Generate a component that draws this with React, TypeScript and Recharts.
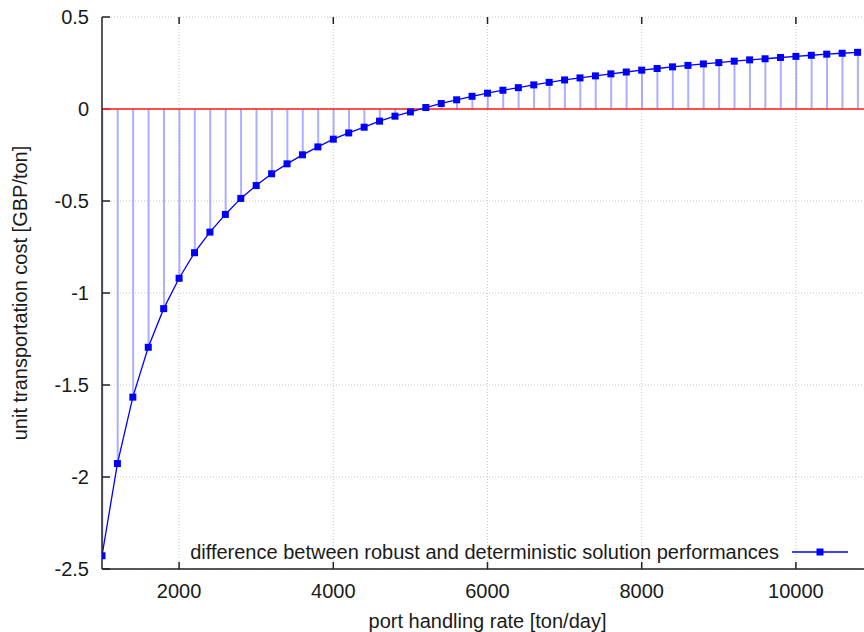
import React from 'react';
import {
  ComposedChart,
  Line,
  Bar,
  XAxis,
  YAxis,
  CartesianGrid,
  ReferenceLine,
  Legend,
} from 'recharts';

const handlingRates = [
  1000, 1200, 1400, 1600, 1800, 2000, 2200, 2400, 2600, 2800,
  3000, 3200, 3400, 3600, 3800, 4000, 4200, 4400, 4600, 4800,
  5000, 5200, 5400, 5600, 5800, 6000, 6200, 6400, 6600, 6800,
  7000, 7200, 7400, 7600, 7800, 8000, 8200, 8400, 8600, 8800,
  9000, 9200, 9400, 9600, 9800, 10000, 10200, 10400, 10600, 10800,
];

const costDifference = [
  -2.428, -1.927, -1.566, -1.295, -1.085, -0.92, -0.781, -0.669, -0.573, -0.486,
  -0.416, -0.352, -0.298, -0.249, -0.206, -0.164, -0.13, -0.099, -0.066, -0.039,
  -0.016, 0.008, 0.03, 0.05, 0.069, 0.086, 0.102, 0.116, 0.131, 0.145,
  0.158, 0.169, 0.18, 0.191, 0.201, 0.211, 0.22, 0.229, 0.237, 0.245,
  0.252, 0.26, 0.267, 0.273, 0.28, 0.286, 0.292, 0.298, 0.303, 0.308,
];

const xTicks = [2000, 4000, 6000, 8000, 10000];
const yTicks = [-2.5, -2, -1.5, -1, -0.5, 0, 0.5];
const yTickLabels = ['-2.5', '-2', '-1.5', '-1', '-0.5', '0', '0.5'];

const xDomain = [1000, 11000];
const yDomain = [-2.5, 0.5];

const seriesName = 'difference between robust and deterministic solution performances';
const xTitle = 'port handling rate [ton/day]';
const yTitle = 'unit transportation cost [GBP/ton]';

const data = handlingRates.map((r, i) => ({ rate: r, diff: costDifference[i] }));

// inward tick-mark lengths expressed in axis units (~7-8 px)
const X_TICK_LEN = 0.038; // y-units for ticks on horizontal borders
const Y_TICK_LEN = 104; // x-units for ticks on the left border

const FONT = '"Liberation Sans", Arial, Helvetica, sans-serif';
const TEXT = '#1a1a1a';
const AXIS = '#222222';

const BottomTick = (props: any) => {
  const { x, y, payload } = props;
  return (
    <text x={x} y={y} dy="0.71em" textAnchor="middle" fontSize={20} fontFamily={FONT} fill={TEXT}>
      {payload.value}
    </text>
  );
};

const LeftTick = (props: any) => {
  const { x, y, payload } = props;
  const idx = yTicks.indexOf(payload.value);
  const label = idx >= 0 ? yTickLabels[idx] : String(payload.value);
  return (
    <text x={x} y={y} dy="0.355em" textAnchor="end" fontSize={20} fontFamily={FONT} fill={TEXT}>
      {label}
    </text>
  );
};

const SquareDot = (props: any) => {
  const { cx, cy, index } = props;
  if (cx == null || cy == null) return <g key={index} />;
  return <rect key={index} x={cx - 3.5} y={cy - 3.5} width={7} height={7} fill="#0000ff" />;
};

const YTitle = (props: any) => {
  const vb = props.viewBox || { x: 0, y: 0, width: 0, height: 0 };
  const cx = vb.x + 20;
  const cy = vb.y + vb.height / 2;
  return (
    <text
      x={cx}
      y={cy}
      transform={`rotate(-90 ${cx} ${cy})`}
      textAnchor="middle"
      dominantBaseline="central"
      fontSize={20}
      fontFamily={FONT}
      fill={TEXT}
    >
      {yTitle}
    </text>
  );
};

const XTitle = (props: any) => {
  const vb = props.viewBox || { x: 0, y: 0, width: 0, height: 0 };
  const cx = vb.x + vb.width / 2;
  return (
    <text x={cx} y={vb.y + 58.5} textAnchor="middle" fontSize={20} fontFamily={FONT} fill={TEXT}>
      {xTitle}
    </text>
  );
};

const LegendContent = () => (
  <div
    style={{
      display: 'flex',
      justifyContent: 'flex-end',
      alignItems: 'center',
      height: 20,
    }}
  >
    <span style={{ fontFamily: FONT, fontSize: 20, lineHeight: '20px', color: TEXT, whiteSpace: 'nowrap' }}>
      {seriesName}
    </span>
    <svg width={56} height={20} style={{ marginLeft: 13, display: 'block' }}>
      <line x1={0} y1={10} x2={56} y2={10} stroke="#0000ff" strokeWidth={1.5} />
      <rect x={24.5} y={6.5} width={7} height={7} fill="#0000ff" />
    </svg>
  </div>
);

const axisLineStyle = { stroke: AXIS, strokeWidth: 1.5 };

export default function App() {
  return (
    <div
      style={{
        position: 'absolute',
        left: 0,
        top: 0,
        width: 864,
        height: 632,
        overflow: 'hidden',
        background: '#ffffff',
      }}
    >
      <ComposedChart
        width={900}
        height={632}
        data={data}
        margin={{ top: 17, right: 27, left: 0, bottom: 33 }}
      >
        <CartesianGrid
          stroke="#c8c8c8"
          strokeDasharray="1 2"
          verticalValues={xTicks}
          horizontalValues={yTicks}
        />
        <XAxis
          dataKey="rate"
          type="number"
          domain={xDomain}
          ticks={xTicks}
          allowDataOverflow
          height={30}
          stroke={AXIS}
          tickSize={0}
          tickMargin={15}
          tickLine={false}
          axisLine={axisLineStyle}
          tick={<BottomTick />}
          interval={0}
          label={<XTitle />}
        />
        <XAxis
          xAxisId="top"
          dataKey="rate"
          type="number"
          orientation="top"
          domain={xDomain}
          ticks={xTicks}
          allowDataOverflow
          height={0}
          stroke={AXIS}
          tickSize={0}
          tickMargin={0}
          tickLine={false}
          axisLine={axisLineStyle}
          tick={false}
          interval={0}
        />
        <YAxis
          type="number"
          domain={yDomain}
          ticks={yTicks}
          allowDataOverflow
          width={102}
          stroke={AXIS}
          tickSize={0}
          tickMargin={13}
          tickLine={false}
          axisLine={axisLineStyle}
          tick={<LeftTick />}
          interval={0}
          label={<YTitle />}
        />
        <Bar
          dataKey="diff"
          barSize={2}
          fill="#8c8cff"
          fillOpacity={0.7}
          isAnimationActive={false}
          legendType="none"
        />
        <ReferenceLine y={0} stroke="#ff1a1a" strokeWidth={1.5} />
        {xTicks.map((t) => (
          <ReferenceLine
            key={`b${t}`}
            segment={[
              { x: t, y: yDomain[0] },
              { x: t, y: yDomain[0] + X_TICK_LEN },
            ]}
            stroke={AXIS}
            strokeWidth={1.5}
            ifOverflow="visible"
          />
        ))}
        {xTicks.map((t) => (
          <ReferenceLine
            key={`t${t}`}
            segment={[
              { x: t, y: yDomain[1] },
              { x: t, y: yDomain[1] - X_TICK_LEN },
            ]}
            stroke={AXIS}
            strokeWidth={1.5}
            ifOverflow="visible"
          />
        ))}
        {yTicks.map((t) => (
          <ReferenceLine
            key={`l${t}`}
            segment={[
              { x: xDomain[0], y: t },
              { x: xDomain[0] + Y_TICK_LEN, y: t },
            ]}
            stroke={t === 0 ? '#ff1a1a' : AXIS}
            strokeWidth={1.5}
            ifOverflow="visible"
          />
        ))}
        <Line
          dataKey="diff"
          name={seriesName}
          type="linear"
          stroke="#0000ff"
          strokeWidth={1.3}
          dot={<SquareDot />}
          activeDot={false}
          isAnimationActive={false}
        />
        <Legend
          layout="horizontal"
          verticalAlign="middle"
          align="center"
          content={<LegendContent />}
          wrapperStyle={{ position: 'absolute', left: 100, top: 542, width: 748, height: 20 }}
        />
      </ComposedChart>
    </div>
  );
}
